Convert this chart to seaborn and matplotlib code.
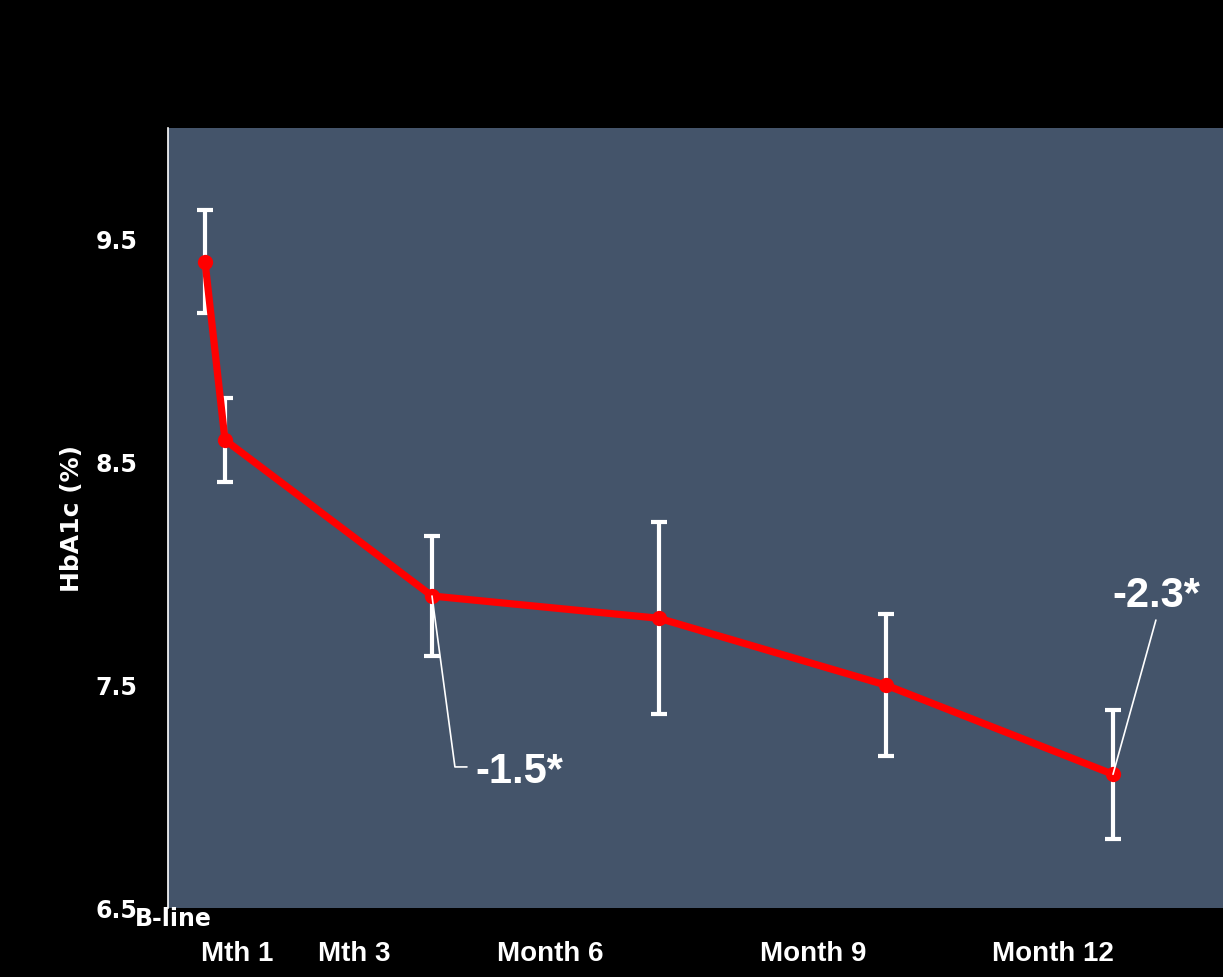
import matplotlib
matplotlib.use("Agg")
import matplotlib.pyplot as plt
import seaborn as sns
import pandas as pd

# ---- data ----
timepoints = ["B-line", "Mth 1", "Mth 3", "Month 6", "Month 9", "Month 12"]
x_pos = [0.163, 0.251, 1.163, 2.163, 3.163, 4.163]
hba1c = [9.40, 8.60, 7.90, 7.80, 7.50, 7.10]
err = [0.23, 0.19, 0.27, 0.43, 0.32, 0.29]
y_ticks = [6.5, 7.5, 8.5, 9.5]
y_tick_labels = ["6.5", "7.5", "8.5", "9.5"]
x_label_pos = [0.304, 0.819, 1.683, 2.841, 3.899]
x_labels = ["Mth 1", "Mth 3", "Month 6", "Month 9", "Month 12"]
bline_pos = [0.024]
bline_label = ["B-line"]
ann_texts = ["-1.5*", "-2.3*"]

df = pd.DataFrame({"time": timepoints, "x": x_pos, "hba1c": hba1c, "err": err})

sns.set_theme(style="white")
plt.rcParams["font.family"] = ["Liberation Sans", "DejaVu Sans"]

BG = "#44546A"
fig = plt.figure(figsize=(12.23, 9.77), dpi=100, facecolor="black")
ax = fig.add_axes([168 / 1223, (977 - 908) / 977, 1055 / 1223, 780 / 977])
ax.set_facecolor(BG)

ax.errorbar(df["x"], df["hba1c"], yerr=df["err"], fmt="none", ecolor="white",
            elinewidth=3, capsize=5.5, capthick=3, zorder=2)
sns.lineplot(data=df, x="x", y="hba1c", ax=ax, color="#FF0000", linewidth=5.2,
             marker="o", markersize=11, markeredgewidth=0, zorder=3,
             estimator=None, sort=False)

ax.set_xlim(0, 1055 / 227)
ax.set_ylim(6.5, 10.0)

for s in ["top", "right", "bottom"]:
    ax.spines[s].set_visible(False)
ax.spines["left"].set_color("white")
ax.spines["left"].set_linewidth(1.2)

ax.set_yticks(y_ticks)
ax.set_yticklabels(y_tick_labels, fontfamily="DejaVu Sans", fontweight="bold", fontsize=17, color="white")
ax.tick_params(axis="y", length=0, pad=22)

ax.set_xticks(x_label_pos)
ax.set_xticklabels(x_labels, fontweight="bold", fontsize=20, color="white")
ax.set_xticks(bline_pos, minor=True)
ax.set_xticklabels(bline_label, minor=True, fontfamily="DejaVu Sans", fontweight="bold", fontsize=17, color="white")
ax.tick_params(axis="x", which="major", length=0, pad=24)
ax.tick_params(axis="x", which="minor", length=0, pad=-1)

ax.set_xlabel("")
ax.set_ylabel("HbA1c (%)", fontfamily="DejaVu Sans", fontweight="bold", fontsize=18, color="white")
ax.yaxis.set_label_coords(-(168 - 84) / 1055, (908 - 519) / 780)

# annotations
ax.plot([x_pos[2], 1.264, 1.317], [hba1c[2], 7.133, 7.133], color="white", lw=1.2, zorder=4)
ax.text(1.352, 7.061, ann_texts[0], color="white", fontsize=30, fontweight="bold",
        va="baseline", ha="left")
ax.plot([x_pos[5], 4.352], [hba1c[5], 7.792], color="white", lw=1.2, zorder=4)
ax.text(4.159, 7.850, ann_texts[1], color="white", fontsize=30, fontweight="bold",
        va="baseline", ha="left")

fig.savefig("out.png", dpi=100, facecolor="black")
